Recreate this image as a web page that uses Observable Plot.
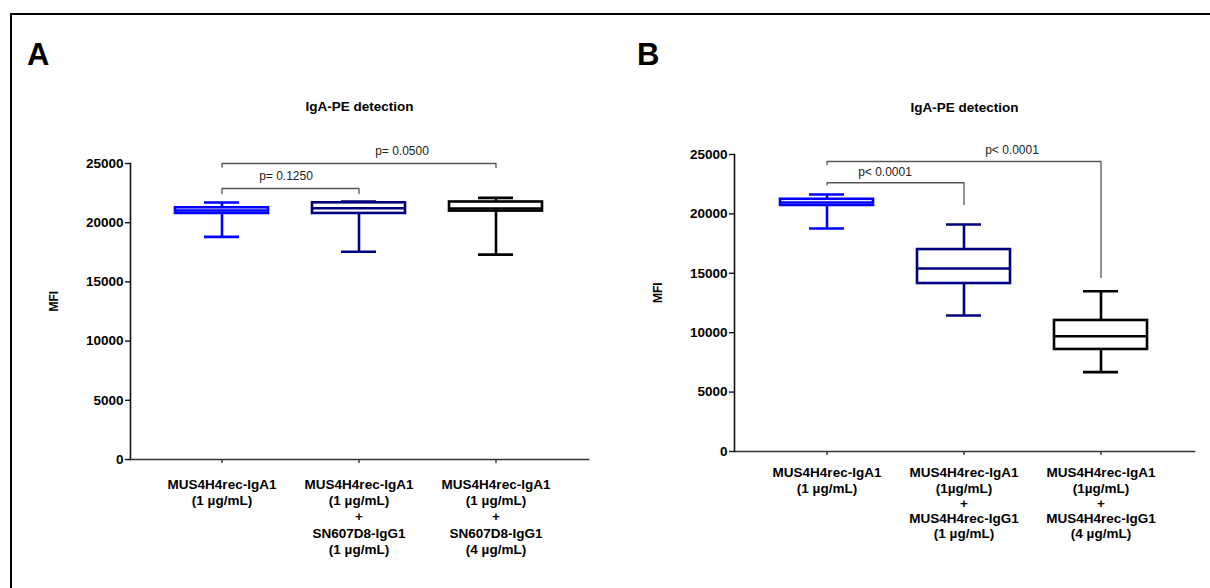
<!DOCTYPE html>
<html><head><meta charset="utf-8">
<script src="https://cdn.jsdelivr.net/npm/d3@7"></script>
<script src="https://cdn.jsdelivr.net/npm/@observablehq/plot@0.6"></script>
<style>
html,body{margin:0;padding:0;background:#fff;}
#root{position:relative;width:1210px;height:588px;overflow:hidden;font-family:"Liberation Sans",Arial,sans-serif;}
#frame{position:absolute;left:10px;top:13px;width:1400px;height:800px;border-top:2px solid #000;border-left:2px solid #000;}
.letter{position:absolute;font-size:31px;font-weight:bold;line-height:31px;color:#000;}
.panel{position:absolute;top:0;}
</style></head>
<body>
<div id="root">
  <div id="frame"></div>
  <div class="letter" style="left:27px;top:39px">A</div>
  <div class="letter" style="left:637px;top:39px">B</div>
  <div class="panel" id="pa" style="left:0px"></div>
  <div class="panel" id="pb" style="left:605px"></div>
</div>
<script>
// ---------- data ----------
const yTicks = [0, 5000, 10000, 15000, 20000, 25000];

const catsA = [
  "MUS4H4rec-IgA1\n(1 µg/mL)",
  "MUS4H4rec-IgA1\n(1 µg/mL)\n+\nSN607D8-IgG1\n(1 µg/mL)",
  "MUS4H4rec-IgA1\n(1 µg/mL)\n+\nSN607D8-IgG1\n(4 µg/mL)"
];
const minA = [18800, 17550, 17300];
const q1A  = [20780, 20780, 20980];
const medA = [21030, 21220, 21200];
const q3A  = [21260, 21680, 21750];
const maxA = [21700, 21790, 22100];

const bracketFromA  = [0, 0];
const bracketToA    = [1, 2];
const bracketYA     = [22890, 25000];
const bracketLeftA  = [22470, 24700];
const bracketRightA = [22470, 24650];
const pLabelsA      = ["p= 0.1250", "p= 0.0500"];

const catsB = [
  "MUS4H4rec-IgA1\n(1 µg/mL)",
  "MUS4H4rec-IgA1\n(1µg/mL)\n+\nMUS4H4rec-IgG1\n(1 µg/mL)",
  "MUS4H4rec-IgA1\n(1µg/mL)\n+\nMUS4H4rec-IgG1\n(4 µg/mL)"
];
const minB = [18770, 11450, 6680];
const q1B  = [20710, 14140, 8590];
const medB = [20960, 15400, 9700];
const q3B  = [21230, 17000, 11030];
const maxB = [21630, 19110, 13490];

const bracketFromB  = [0, 0];
const bracketToB    = [1, 2];
const bracketYB     = [22620, 24410];
const bracketLeftB  = [22450, 24160];
const bracketRightB = [20790, 14650];
const pLabelsB      = ["p< 0.0001", "p< 0.0001"];

const boxPalette = ["#0000ff", "#000080", "#000000"];

// ---------- drawing ----------
function panel(cfg) {
  const {cats, mins, q1s, meds, q3s, maxs, bFrom, bTo, bY, bLeft, bRight, pLabels, m, pad, labelDx, labelDy, titleDy, tickPad, lineH} = cfg;
  const rows = cats.map((c, i) => ({cat: c, min: mins[i], q1: q1s[i], med: meds[i], q3: q3s[i], max: maxs[i]}));
  const pts = [];
  bFrom.forEach((f, i) => {
    pts.push({b: i, x: cats[f], y: bLeft[i]});
    pts.push({b: i, x: cats[f], y: bY[i]});
    pts.push({b: i, x: cats[bTo[i]], y: bY[i]});
    pts.push({b: i, x: cats[bTo[i]], y: bRight[i]});
  });
  const labelMarks = pLabels.map((t, i) => Plot.text([t], {
    x: [cats[i === 0 ? bFrom[i] : 1]], y: [bY[i]], text: d => d,
    dx: labelDx[i], dy: labelDy, fontSize: 12, fill: "#222", textAnchor: "middle", lineAnchor: "middle"
  }));
  const sw = 2.6;
  return Plot.plot({
    width: 605, height: 588,
    marginLeft: m[0], marginRight: m[1], marginTop: m[2], marginBottom: m[3],
    style: {fontFamily: "'Liberation Sans', Arial, sans-serif", background: "transparent", overflow: "visible", color: "#000"},
    x: {domain: cats, paddingInner: pad[0], paddingOuter: pad[1], label: null},
    y: {domain: [0, 25000], label: null},
    color: {domain: cats, range: boxPalette},
    marks: [
      Plot.frame({anchor: "left", stroke: "#111", strokeWidth: 1.6}),
      Plot.frame({anchor: "bottom", stroke: "#333", strokeWidth: 1.6}),
      Plot.axisY({ticks: yTicks, tickFormat: d3.format("d"), tickSize: 5, tickPadding: 2, fontWeight: "bold", fontSize: 13.5, label: null, stroke: "#111", strokeWidth: 1.4}),
      Plot.axisX({tickSize: 4, tickPadding: tickPad, fontWeight: "bold", fontSize: 13.5, lineHeight: lineH, label: null, stroke: "#333", strokeWidth: 1.4}),
      Plot.text(["MFI"], {frameAnchor: "left", dx: -76, rotate: -90, fontWeight: "bold", fontSize: 12, lineAnchor: "middle", text: d => d}),
      Plot.text(["IgA-PE detection"], {frameAnchor: "top", dy: titleDy, fontWeight: "bold", fontSize: 13.5, lineAnchor: "middle", text: d => d}),
      Plot.line(pts, {x: "x", y: "y", z: "b", stroke: "#555", strokeWidth: 1.3}),
      ...labelMarks,
      Plot.ruleX(rows, {x: "cat", y1: "min", y2: "q1", stroke: "cat", strokeWidth: sw}),
      Plot.ruleX(rows, {x: "cat", y1: "q3", y2: "max", stroke: "cat", strokeWidth: sw}),
      Plot.tickY(rows, {x: "cat", y: "min", stroke: "cat", strokeWidth: sw, insetLeft: 29, insetRight: 29}),
      Plot.tickY(rows, {x: "cat", y: "max", stroke: "cat", strokeWidth: sw, insetLeft: 29, insetRight: 29}),
      Plot.barY(rows, {x: "cat", y1: "q1", y2: "q3", fill: "white", stroke: "cat", strokeWidth: sw}),
      Plot.tickY(rows, {x: "cat", y: "med", stroke: "cat", strokeWidth: sw})
    ]
  });
}

document.getElementById("pa").appendChild(panel({
  cats: catsA, mins: minA, q1s: q1A, meds: medA, q3s: q3A, maxs: maxA,
  bFrom: bracketFromA, bTo: bracketToA, bY: bracketYA, bLeft: bracketLeftA, bRight: bracketRightA, pLabels: pLabelsA,
  m: [130, 17, 163, 129], pad: [0.319, 0.319], labelDx: [64, 43], labelDy: -12, titleDy: -57, tickPad: 14, lineH: 1.2
}));
document.getElementById("pb").appendChild(panel({
  cats: catsB, mins: minB, q1s: q1B, meds: medB, q3s: q3B, maxs: maxB,
  bFrom: bracketFromB, bTo: bracketToB, bY: bracketYB, bLeft: bracketLeftB, bRight: bracketRightB, pLabels: pLabelsB,
  m: [129, 16, 154, 137], pad: [0.319, 0.33], labelDx: [58, 48], labelDy: -11, titleDy: -47, tickPad: 11, lineH: 1.13
}));
</script>
</body></html>
